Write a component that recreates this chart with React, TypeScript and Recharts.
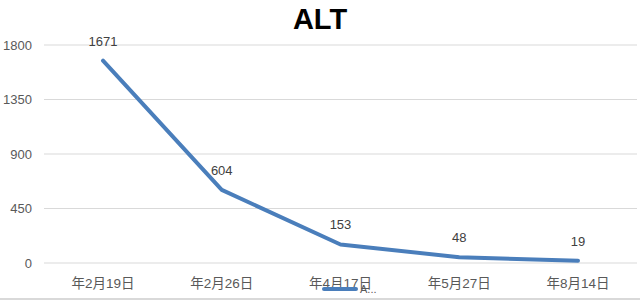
import { LineChart, Line, XAxis, YAxis, CartesianGrid, LabelList } from 'recharts'

// dates shown on the x axis (year part is cut off in the source)
const categories = ['年2月19日', '年2月26日', '年4月17日', '年5月27日', '年8月14日']
const altValues = [1671, 604, 153, 48, 19]
const yTicks = [0, 450, 900, 1350, 1800]

const BLUE = '#4a7ebb'
const FONT = '"Liberation Sans", "Noto Sans CJK SC", sans-serif'

const chartData = categories.map((date, i) => ({ date, alt: altValues[i] }))

// Legend in the source is squeezed, so the name shows as "A..."
const SquashedLegend = () => (
  <svg width={60} height={16} style={{ position: 'absolute', left: 322, top: 281 }}>
    <line x1={2} y1={8} x2={34} y2={8} stroke={BLUE} strokeWidth={4} strokeLinecap="round" />
    <text x={38} y={12} fontSize={11} fill="#595959" fontFamily={FONT}>
      A...
    </text>
  </svg>
)

export default function App() {
  return (
    <div
      style={{
        position: 'absolute',
        left: 0,
        top: 0,
        width: 640,
        height: 298,
        borderBottom: '2px solid #d9d9d9',
        background: '#fff',
      }}
    >
      <div
        style={{
          position: 'absolute',
          top: 3,
          left: 0,
          width: 640,
          textAlign: 'center',
          fontFamily: FONT,
          fontWeight: 'bold',
          fontSize: 29,
          color: '#000',
        }}
      >
        ALT
      </div>
      <LineChart
        width={640}
        height={300}
        data={chartData}
        margin={{ top: 45, right: 3, left: 0, bottom: 0 }}
      >
        <CartesianGrid vertical={false} stroke="#d9d9d9" strokeWidth={1} />
        <XAxis
          dataKey="date"
          height={37}
          padding={{ left: 59, right: 59 }}
          axisLine={false}
          tickLine={false}
          tickMargin={9}
          tick={{ fontSize: 13.5, fill: '#595959', fontFamily: FONT }}
          interval={0}
        />
        <YAxis
          width={44}
          domain={[0, 1800]}
          ticks={yTicks}
          axisLine={false}
          tickLine={false}
          tickMargin={6}
          tick={{ fontSize: 13, fill: '#595959', fontFamily: FONT }}
        />
        <Line
          type="linear"
          dataKey="alt"
          name="ALT"
          stroke={BLUE}
          strokeWidth={4}
          strokeLinecap="round"
          strokeLinejoin="round"
          dot={false}
          activeDot={false}
          isAnimationActive={false}
        >
          <LabelList
            dataKey="alt"
            position="top"
            offset={15}
            style={{ fontSize: 13, fill: '#404040', fontFamily: FONT }}
          />
        </Line>
      </LineChart>
      <SquashedLegend />
    </div>
  )
}
